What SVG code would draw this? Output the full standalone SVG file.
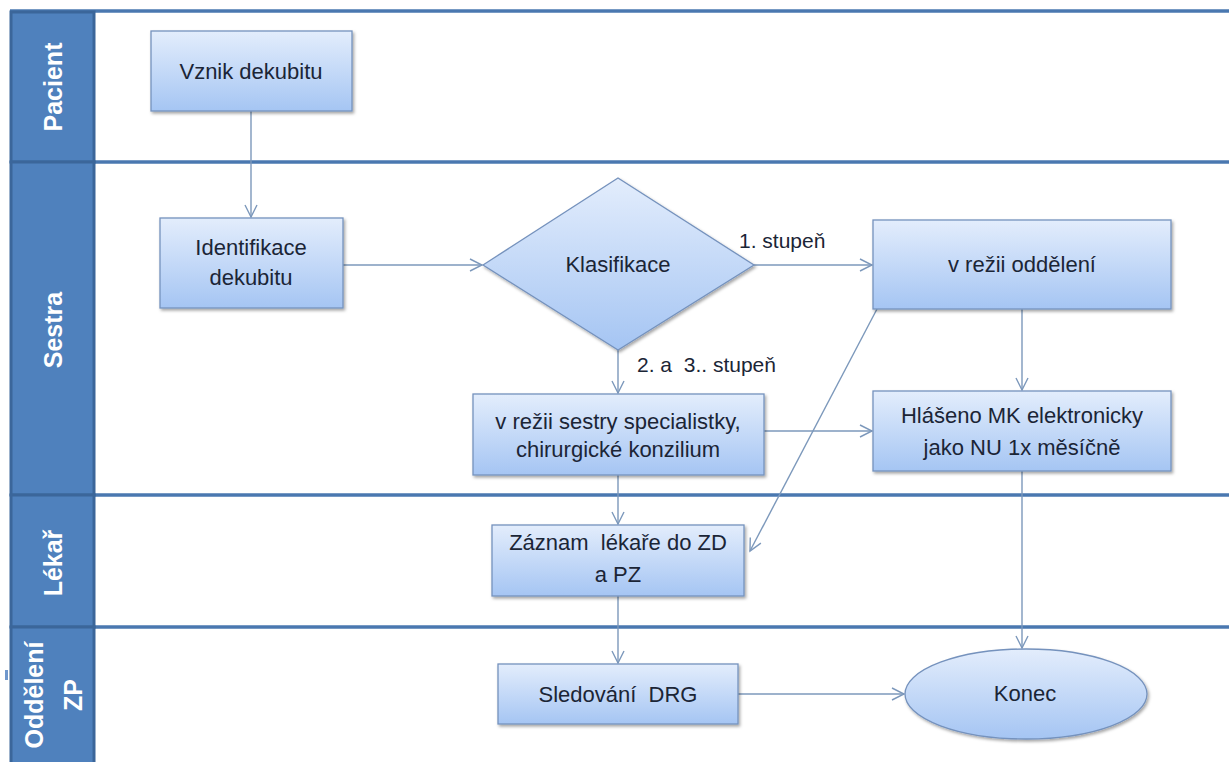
<svg xmlns="http://www.w3.org/2000/svg" width="1229" height="762" viewBox="0 0 1229 762">
<defs>
<linearGradient id="g" x1="0" y1="0" x2="0" y2="1">
<stop offset="0" stop-color="#e3edfc"/>
<stop offset="1" stop-color="#a5c5f3"/>
</linearGradient>
<filter id="sh" x="-10%" y="-10%" width="130%" height="140%">
<feDropShadow dx="1.5" dy="2" stdDeviation="1.5" flood-color="#000" flood-opacity="0.35"/>
</filter>
<marker id="ar" markerWidth="16" markerHeight="16" refX="13" refY="8" orient="auto" markerUnits="userSpaceOnUse">
<path d="M1,2 L13,8 L1,14" fill="none" stroke="#7c98bb" stroke-width="1.4"/>
</marker>
<style>
.box{fill:url(#g);stroke:#7592bd;stroke-width:1.3;filter:url(#sh)}
.t{font-family:"Liberation Sans",Arial,sans-serif;font-size:22px;fill:#1b2536;text-anchor:middle}
.lbl{font-family:"Liberation Sans",Arial,sans-serif;font-size:21px;fill:#1b2536}
.hd{fill:#4f81bd;stroke:#3b669a;stroke-width:3}
.ht{font-family:"Liberation Sans",Arial,sans-serif;font-size:25px;font-weight:bold;fill:#ffffff;text-anchor:middle}
.ln{stroke:#4a78b0;stroke-width:3.5}
.c{fill:none;stroke:#7c98bb;stroke-width:1.4;marker-end:url(#ar)}
</style>
</defs>
<rect width="1229" height="762" fill="#ffffff"/>

<g id="lanes">
<line class="ln" x1="10" y1="11" x2="1229" y2="11"/>
<line class="ln" x1="95" y1="162" x2="1229" y2="162"/>
<line class="ln" x1="95" y1="495" x2="1229" y2="495"/>
<line class="ln" x1="95" y1="627" x2="1229" y2="627"/>
<rect x="5" y="670" width="3" height="10" fill="#6f97cc"/>
</g>

<g id="lane-pacient">
<rect class="hd" x="11" y="12" width="83" height="150"/>
<text class="ht" transform="translate(62,87) rotate(-90)">Pacient</text>
</g>
<g id="lane-sestra">
<rect class="hd" x="11" y="162" width="83" height="333"/>
<text class="ht" transform="translate(62,330) rotate(-90)">Sestra</text>
</g>
<g id="lane-lekar">
<rect class="hd" x="11" y="495" width="83" height="132"/>
<text class="ht" transform="translate(62,563) rotate(-90)">Lékař</text>
</g>
<g id="lane-oddeleni">
<rect class="hd" x="11" y="627" width="83" height="140"/>
<text class="ht" transform="translate(43,695) rotate(-90)">Oddělení</text>
<text class="ht" transform="translate(82,695) rotate(-90)">ZP</text>
</g>

<g id="connectors">
<line class="c" x1="251" y1="111" x2="251" y2="217"/>
<line class="c" x1="343" y1="265" x2="482" y2="265"/>
<line class="c" x1="754" y1="265" x2="872" y2="265"/>
<line class="c" x1="618" y1="350" x2="618" y2="393"/>
<line class="c" x1="1022" y1="309" x2="1022" y2="390"/>
<line class="c" x1="764" y1="431" x2="872" y2="431"/>
<line class="c" x1="877" y1="309" x2="750" y2="551"/>
<line class="c" x1="618" y1="475" x2="618" y2="524"/>
<line class="c" x1="618" y1="596" x2="618" y2="663"/>
<line class="c" x1="738" y1="694" x2="904" y2="694"/>
<line class="c" x1="1022" y1="471" x2="1022" y2="648"/>
<text class="lbl" x="739" y="248">1. stupeň</text>
<text class="lbl" x="637" y="372" xml:space="preserve">2. a  3.. stupeň</text>
</g>

<g id="n-vznik">
<rect class="box" x="151" y="31" width="201" height="80"/>
<text class="t" x="251" y="79">Vznik dekubitu</text>
</g>
<g id="n-identifikace">
<rect class="box" x="160" y="218" width="183" height="90"/>
<text class="t" x="251" y="255">Identifikace</text>
<text class="t" x="251" y="285">dekubitu</text>
</g>
<g id="n-klasifikace">
<polygon class="box" points="483,265 618,178 754,265 618,350"/>
<text class="t" x="618" y="272">Klasifikace</text>
</g>
<g id="n-rezii-oddeleni">
<rect class="box" x="873" y="220" width="298" height="89"/>
<text class="t" x="1022" y="272">v režii oddělení</text>
</g>
<g id="n-hlaseno">
<rect class="box" x="873" y="391" width="298" height="80"/>
<text class="t" x="1022" y="423">Hlášeno MK elektronicky</text>
<text class="t" x="1022" y="455">jako NU 1x měsíčně</text>
</g>
<g id="n-rezii-sestry">
<rect class="box" x="473" y="394" width="291" height="81"/>
<text class="t" x="618" y="429">v režii sestry specialistky,</text>
<text class="t" x="618" y="457">chirurgické konzilium</text>
</g>
<g id="n-zaznam">
<rect class="box" x="492" y="525" width="252" height="71"/>
<text class="t" x="618" y="550" xml:space="preserve">Záznam  lékaře do ZD</text>
<text class="t" x="618" y="582">a PZ</text>
</g>
<g id="n-sledovani">
<rect class="box" x="498" y="664" width="240" height="60"/>
<text class="t" x="618" y="702" xml:space="preserve">Sledování  DRG</text>
</g>
<g id="n-konec">
<ellipse class="box" cx="1026" cy="694" rx="121" ry="45"/>
<text class="t" x="1025" y="701">Konec</text>
</g>
</svg>
